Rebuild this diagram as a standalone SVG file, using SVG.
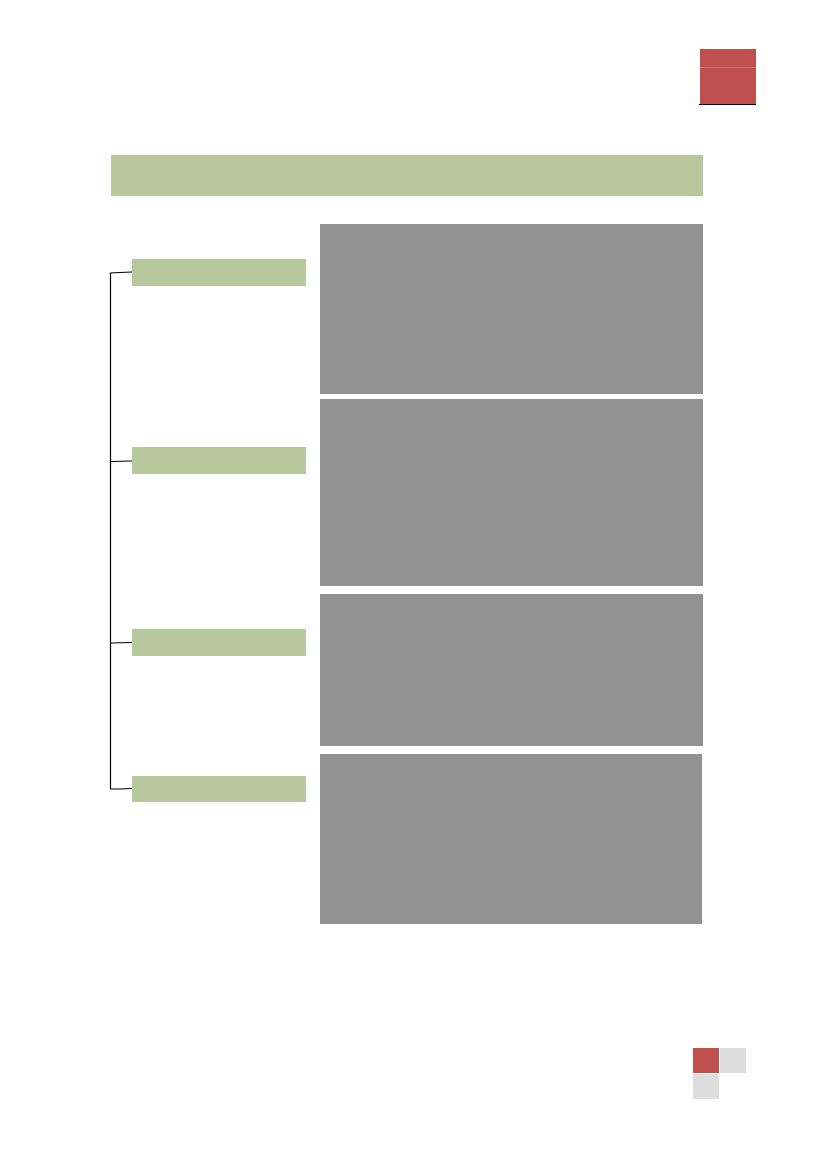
<svg xmlns="http://www.w3.org/2000/svg" width="827" height="1169" viewBox="0 0 827 1169">
<style>
.g{fill:#B9C89C}
.p{fill:#929292}
.r{fill:#C0504D}
.l{fill:#DDDDDD}
.c{fill:none;stroke:#000;stroke-width:1.2}
</style>
<rect width="827" height="1169" fill="#fff"/>
<g id="corner-top">
<rect class="r" x="700" y="49" width="56" height="55"/>
<line x1="700" y1="67.5" x2="756" y2="67.5" stroke="#D47875" stroke-width="1"/>
<line x1="699" y1="104.5" x2="756" y2="104.5" stroke="#000" stroke-width="1.2"/>
</g>
<g id="header"><rect class="g" x="111" y="155" width="592" height="41"/></g>
<g id="label1"><rect class="g" x="132" y="259" width="174" height="27"/></g>
<g id="label2"><rect class="g" x="132" y="447" width="174" height="27"/></g>
<g id="label3"><rect class="g" x="132" y="629" width="174" height="27"/></g>
<g id="label4"><rect class="g" x="132" y="776" width="174" height="26"/></g>
<g id="panel1"><rect class="p" x="320" y="224" width="383" height="170"/></g>
<g id="panel2"><rect class="p" x="320" y="399" width="383" height="187"/></g>
<g id="panel3"><rect class="p" x="320" y="594" width="383" height="152"/></g>
<g id="panel4"><rect class="p" x="320" y="754" width="382" height="170"/></g>
<g id="connectors">
<polyline class="c" points="132,272 120,272.5 110.5,273 110.5,789 120,789 132,788.5"/>
<polyline class="c" points="110.5,461.5 132,461"/>
<polyline class="c" points="110.5,643 132,642.5"/>
</g>
<g id="corner-bottom">
<rect class="r" x="693" y="1048" width="26" height="25"/>
<rect class="l" x="720" y="1048" width="26" height="25"/>
<rect class="l" x="693" y="1074" width="26" height="25"/>
</g>
</svg>
